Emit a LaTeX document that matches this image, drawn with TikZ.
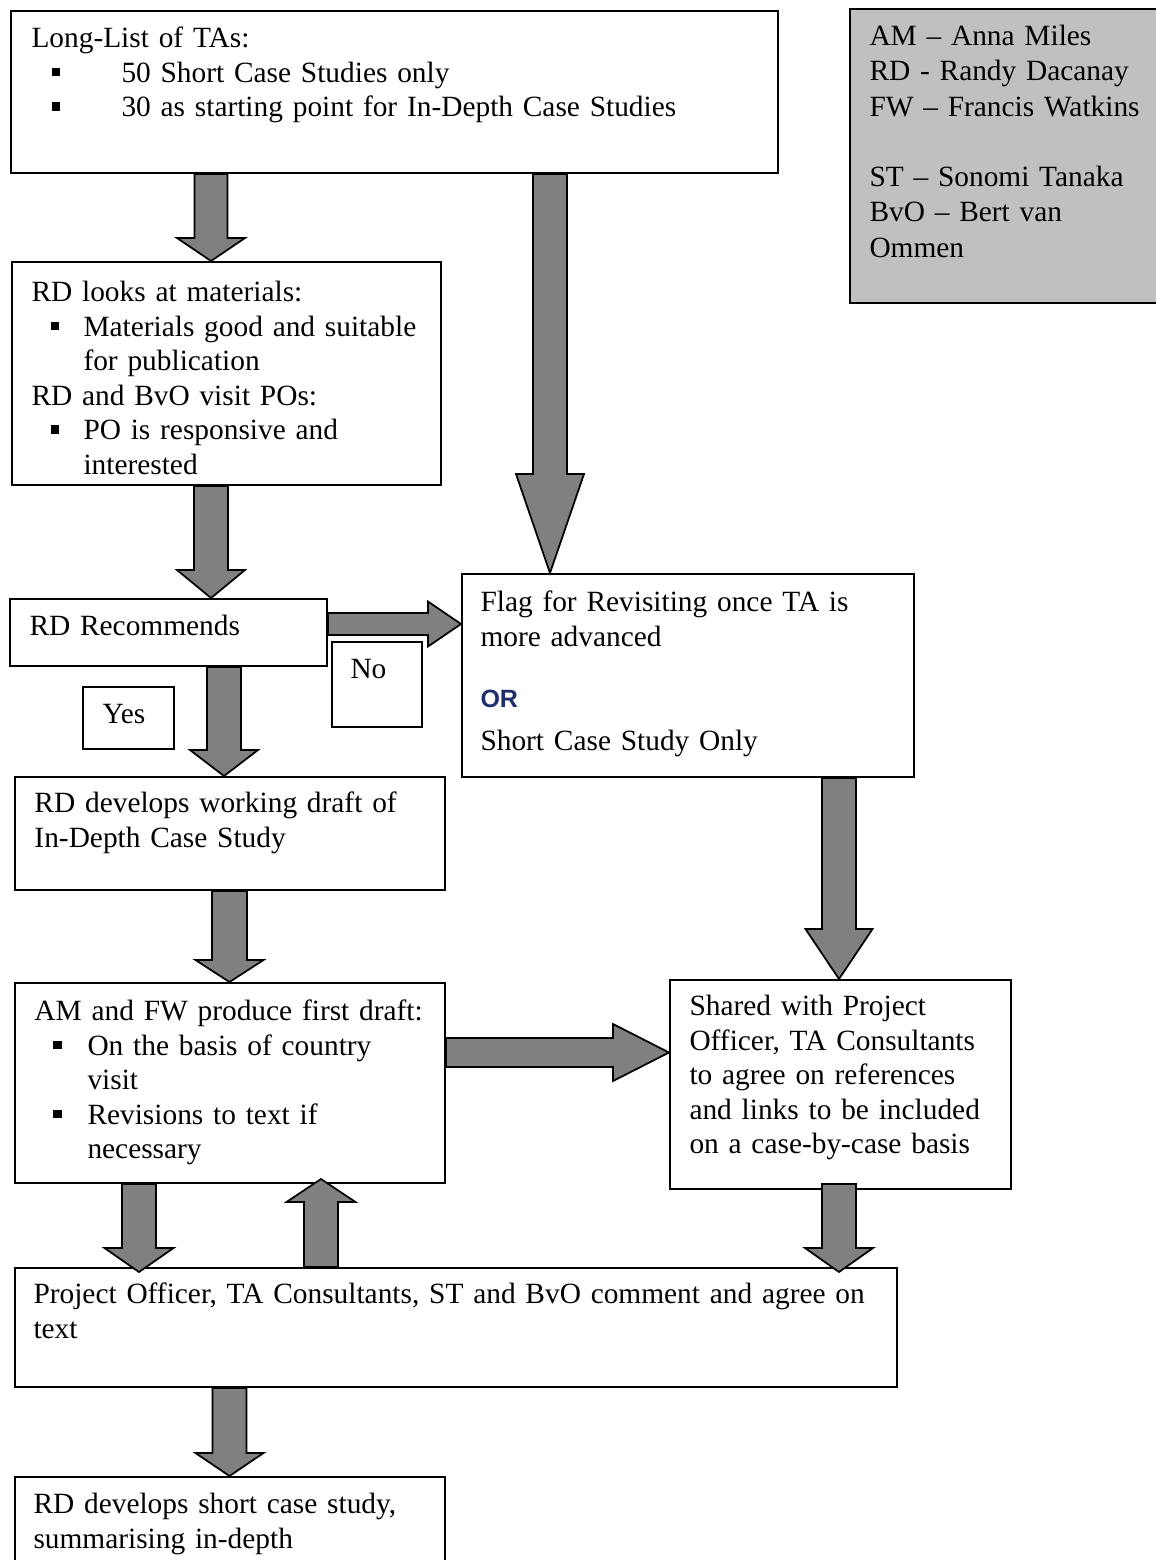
\documentclass[tikz,border=0pt]{standalone}
\usepackage{fontspec}
\setmainfont{Liberation Serif}
\newfontfamily\orfont{Liberation Sans}
\usetikzlibrary{calc}
\definecolor{arrowgray}{HTML}{808080}
\definecolor{legendgray}{HTML}{C0C0C0}
\definecolor{ornavy}{HTML}{1F2D6B}
\newcommand\bul{\rule[2.4pt]{3.4pt}{3.4pt}}
\newcommand\tf{\fontsize{11.75pt}{13.8pt}\selectfont}
\newcommand\lf{\fontsize{11.75pt}{14.1pt}\selectfont}
% block arrows: #1 start, #2 tip, #3 shaft half width, #4 head half width, #5 head length (px)
\newcommand\blkdown[5]{\draw[blk] ($(#1)+(-#3,0)$) -- ($(#1)+(#3,0)$) -- ($(#2)+(#3,-#5)$) -- ($(#2)+(#4,-#5)$) -- (#2) -- ($(#2)+(-#4,-#5)$) -- ($(#2)+(-#3,-#5)$) -- cycle;}
\newcommand\blkup[5]{\draw[blk] ($(#1)+(-#3,0)$) -- ($(#1)+(#3,0)$) -- ($(#2)+(#3,#5)$) -- ($(#2)+(#4,#5)$) -- (#2) -- ($(#2)+(-#4,#5)$) -- ($(#2)+(-#3,#5)$) -- cycle;}
\newcommand\blkright[5]{\draw[blk] ($(#1)+(0,-#3)$) -- ($(#2)+(-#5,-#3)$) -- ($(#2)+(-#5,-#4)$) -- (#2) -- ($(#2)+(-#5,#4)$) -- ($(#2)+(-#5,#3)$) -- ($(#1)+(0,#3)$) -- cycle;}
\newcommand\mkbox[6][]{\node[box,#1,minimum width={(#5-#3)*0.4pt},minimum height={(#6-#4)*0.4pt}] (#2) at (#3,#4) {};}
\begin{document}
\begin{tikzpicture}[x=0.4pt,y=-0.4pt,
  box/.style={draw, line width=0.8pt, inner sep=0pt, anchor=north west},
  blk/.style={draw, fill=arrowgray, line width=0.7pt, line join=miter},
  txt/.style={inner sep=0pt, anchor=north west, yshift=9.66pt, text width=360pt, align=left, font=\tf}]
\useasboundingbox (0,0) rectangle (1155,1560);

% boxes
\mkbox{b1}{10}{10}{777}{172}
\mkbox{b2}{11}{261}{440}{484}
\mkbox{b3}{9}{598}{326}{665}
\mkbox{b4}{14}{776}{444}{889}
\mkbox{b5}{461}{573}{913}{776}
\mkbox{b6}{669}{979}{1010}{1188}
\mkbox{b7}{14}{982}{444}{1182}
\mkbox{b8}{14}{1267}{896}{1386}
\mkbox{b9}{14}{1476}{444}{1610}
\mkbox{bno}{331}{641}{421}{726}
\mkbox{byes}{82}{686}{173}{748}
\mkbox[fill=legendgray]{leg}{849}{8}{1180}{302}

% arrow end points
\coordinate (a1s) at ($(b1.south west)+(201,0)$);  \coordinate (a1t) at (b2.north -| a1s);
\coordinate (a2s) at ($(b2.south west)+(200,0)$);  \coordinate (a2t) at (b3.north -| a2s);
\coordinate (a3s) at ($(b3.south west)+(215,0)$);  \coordinate (a3t) at (b4.north -| a3s);
\coordinate (a4s) at ($(b4.south west)+(215.5,0)$); \coordinate (a4t) at (b7.north -| a4s);
\coordinate (a5s) at ($(b1.south west)+(540,0)$);  \coordinate (a5t) at (b5.north -| a5s);
\coordinate (a6s) at ($(b3.north east)+(0,26)$);   \coordinate (a6t) at (b5.west |- a6s);
\coordinate (a7s) at ($(b5.south west)+(378,0)$);  \coordinate (a7t) at (b6.north -| a7s);
\coordinate (a8s) at ($(b7.north east)+(0,70.5)$); \coordinate (a8t) at (b6.west |- a8s);
\coordinate (a9s) at ($(b7.south west)+(125,0)$);  \coordinate (a9t) at ($(b8.north -| a9s)+(0,5)$);
\coordinate (a10s) at ($(b8.north west)+(307,0)$); \coordinate (a10t) at ($(b7.south -| a10s)+(0,-5)$);
\coordinate (a11s) at ($(b6.south west)+(170,-6)$); \coordinate (a11t) at ($(b8.north -| a11s)+(0,5)$);
\coordinate (a12s) at ($(b8.south west)+(215.5,0)$); \coordinate (a12t) at (b9.north -| a12s);

% block arrows
\blkdown{a1s}{a1t}{16.5}{34}{23}
\blkdown{a2s}{a2t}{17}{34}{28}
\blkdown{a3s}{a3t}{17}{34}{26}
\blkdown{a4s}{a4t}{17.5}{34}{22}
\blkdown{a5s}{a5t}{17}{34}{99}
\blkright{a6s}{a6t}{11}{22.5}{33}
\blkdown{a7s}{a7t}{17}{33.5}{50}
\blkright{a8s}{a8t}{14.5}{28.5}{56}
\blkdown{a9s}{a9t}{17}{34.5}{24}
\blkup{a10s}{a10t}{17}{34.5}{23}
\blkdown{a11s}{a11t}{17}{34}{24}
\blkdown{a12s}{a12t}{17}{34}{23}

% texts
\node[txt] (t1) at (31,47) {\strut Long-List of TAs:\\
  \hspace*{8pt}\makebox[28pt][l]{\bul}50 Short Case Studies only\\
  \hspace*{8pt}\makebox[28pt][l]{\bul}30 as starting point for In-Depth Case Studies};
\node[txt] (t2) at (31,301) {\strut RD looks at materials:\\
  \hspace*{7.6pt}\makebox[13.2pt][l]{\bul}Materials good and suitable\\
  \hspace*{20.8pt}for publication\\
  RD and BvO visit POs:\\
  \hspace*{7.6pt}\makebox[13.2pt][l]{\bul}PO is responsive and\\
  \hspace*{20.8pt}interested};
\node[txt] (t3) at (29,635) {\strut RD Recommends};
\node[txt] (tno) at (350,678) {\strut No};
\node[txt] (tyes) at (102,723) {\strut Yes};
\node[txt] (t4) at (34,812) {\strut RD develops working draft of\\In-Depth Case Study};
\node[txt] (t5a) at (480,611) {\strut Flag for Revisiting once TA is\\more advanced};
\node[inner sep=0pt, anchor=base west, font={\orfont\bfseries\fontsize{10pt}{12pt}\selectfont}, text=ornavy] (t5b) at (480,707) {OR};
\node[txt] (t5c) at (480,750) {\strut Short Case Study Only};
\node[txt] (t6) at (689,1015) {\strut Shared with Project\\Officer, TA Consultants\\to agree on references\\and links to be included\\on a case-by-case basis};
\node[txt] (t7) at (34,1020) {\strut AM and FW produce first draft:\\
  \hspace*{7.6pt}\makebox[13.6pt][l]{\bul}On the basis of country\\
  \hspace*{21.2pt}visit\\
  \hspace*{7.6pt}\makebox[13.6pt][l]{\bul}Revisions to text if\\
  \hspace*{21.2pt}necessary};
\node[txt] (t8) at (33,1303) {\strut Project Officer, TA Consultants, ST and BvO comment and agree on\\text};
\node[txt] (t9) at (33,1513) {\strut RD develops short case study,\\summarising in-depth};
\node[txt, font=\lf, yshift=0.21pt] (tleg) at (869,45) {\strut AM -- Anna Miles\\RD - Randy Dacanay\\FW -- Francis Watkins\\\mbox{}\\ST -- Sonomi Tanaka\\BvO -- Bert van\\Ommen};
\end{tikzpicture}
\end{document}
